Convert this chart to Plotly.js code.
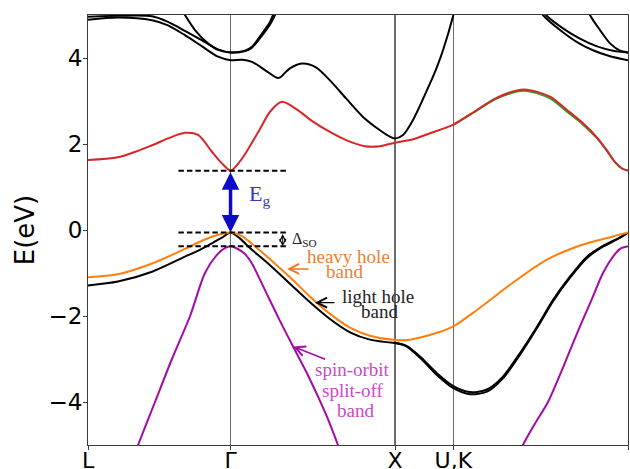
<!DOCTYPE html>
<html>
<head>
<meta charset="utf-8">
<script src="https://cdn.plot.ly/plotly-3.0.1.min.js"></script>
<style>html,body{margin:0;padding:0;background:#fff;}#chart{width:630px;height:469px;}</style>
</head>
<body>
<div id="chart"></div>
<script>
// High-symmetry points along the FCC path (units of 2*pi/a)
const kTicks = [0, 0.866, 1.866, 2.220, 3.281];
const kLabels = ['L', 'Γ', 'X', 'U,K', 'Γ'];
const kGamma = 0.866;

// Band edges at Gamma (eV)
const E_CBM = 1.38;
const E_VBM = -0.06;
const E_SO = -0.38;

// Lowest conduction band
const cbK = [0, 0.182, 0.389, 0.486, 0.589, 0.669, 0.753, 0.814, 0.866, 0.924, 0.984, 1.045, 1.106, 1.179, 1.270, 1.367, 1.470, 1.568, 1.683, 1.774, 1.866, 1.975, 2.078, 2.220, 2.363, 2.485, 2.649, 2.807, 2.910, 3.008, 3.093, 3.153, 3.202, 3.245, 3.281];
const cbE = [1.63, 1.69, 1.97, 2.13, 2.26, 2.21, 1.82, 1.55, E_CBM, 1.60, 1.95, 2.35, 2.75, 2.98, 2.80, 2.52, 2.28, 2.09, 1.95, 1.95, 2.03, 2.11, 2.25, 2.45, 2.79, 3.08, 3.27, 3.10, 2.79, 2.48, 2.15, 1.85, 1.58, 1.43, E_CBM];

// Its partner that splits off slightly along K-Gamma
const cb2K = [2.220, 2.363, 2.485, 2.649, 2.807, 2.910, 3.008, 3.093, 3.153, 3.202, 3.245, 3.281];
const cb2E = [2.45, 2.78, 3.06, 3.24, 3.06, 2.75, 2.45, 2.13, 1.84, 1.58, 1.43, E_CBM];

// Higher conduction bands (null = outside the window)
const c1K = [0, 0.182, 0.389, 0.486, 0.589, 0.693, 0.790, 0.866, 0.936, 0.996, 1.075, 1.148, 1.167, 1.227, 1.306, 1.385, 1.470, 1.568, 1.671, 1.774, 1.835, 1.866, 1.914, 1.975, 2.078, 2.120, 2.157, 2.220, 2.235, null, 2.746, 2.764, 2.868, 2.971, 3.068, 3.172, 3.281];
const c1E = [4.89, 4.94, 4.88, 4.76, 4.53, 4.27, 4.03, 3.95, 3.96, 3.91, 3.72, 3.54, 3.55, 3.76, 3.87, 3.78, 3.48, 3.06, 2.63, 2.32, 2.17, 2.13, 2.21, 2.56, 3.41, 3.79, 4.18, 5.0, 5.25, null, 5.1, 5.0, 4.65, 4.37, 4.18, 4.04, 3.95];

const c2K = [0, 0.182, 0.389, 0.486, 0.589, 0.693, 0.790, 0.866, 0.954, 0.996, 1.057, 1.106, 1.124, 1.140, null, 2.760, 2.783, 2.886, 2.989, 3.093, 3.190, 3.281];
const c2E = [4.96, 4.98, 4.97, 4.84, 4.63, 4.41, 4.20, 4.13, 4.17, 4.26, 4.57, 4.84, 5.0, 5.15, null, 5.15, 5.0, 4.69, 4.45, 4.27, 4.17, 4.13];

const c3K = [0.570, 0.589, 0.650, 0.729, 0.790, 0.866, 0.954, 0.996, 1.057, 1.106, 1.136, 1.150, null, 3.044, 3.050, 3.111, 3.172, 3.233, 3.281];
const c3E = [5.12, 5.0, 4.65, 4.34, 4.19, 4.13, 4.16, 4.24, 4.52, 4.78, 5.0, 5.12, null, 5.1, 5.0, 4.65, 4.34, 4.17, 4.13];

// Heavy hole band
const hhK = [0, 0.182, 0.389, 0.589, 0.711, 0.802, 0.866, 0.936, 0.996, 1.106, 1.227, 1.349, 1.470, 1.592, 1.713, 1.866, 1.956, 2.096, 2.220, 2.363, 2.583, 2.783, 2.989, 3.190, 3.281];
const hhE = [-1.10, -1.03, -0.78, -0.44, -0.22, -0.10, E_VBM, -0.14, -0.32, -0.68, -1.10, -1.55, -1.95, -2.27, -2.46, -2.56, -2.55, -2.42, -2.24, -1.86, -1.22, -0.70, -0.36, -0.15, E_VBM];

// Light hole band (doubly drawn beyond X where it splits)
const lhK = [0, 0.182, 0.389, 0.589, 0.680, 0.753, 0.814, 0.866, 0.924, 0.984, 1.106, 1.227, 1.349, 1.470, 1.592, 1.713, 1.866];
const lhE = [-1.29, -1.20, -0.97, -0.62, -0.46, -0.31, -0.18, E_VBM, -0.20, -0.42, -0.82, -1.25, -1.68, -2.07, -2.38, -2.55, -2.63];

const lhXK = [1.866, 1.932, 2.017, 2.120, 2.220, 2.321, 2.424, 2.521, 2.625, 2.728, 2.825, 2.929, 3.032, 3.129, 3.233, 3.281];
const lhXE1 = [-2.63, -2.69, -2.94, -3.33, -3.63, -3.77, -3.71, -3.41, -2.86, -2.25, -1.63, -1.08, -0.62, -0.37, -0.17, E_VBM];
const lhXE2 = [-2.63, -2.70, -2.97, -3.37, -3.68, -3.82, -3.76, -3.45, -2.90, -2.28, -1.66, -1.11, -0.65, -0.39, -0.18, E_VBM];

// Spin-orbit split-off band
const soK = [0.255, 0.304, 0.407, 0.510, 0.620, 0.711, 0.790, 0.832, 0.866, 0.905, 0.954, 0.996, 1.082, 1.167, 1.246, 1.325, 1.397, 1.458, 1.519, 1.568, null, 2.594, 2.643, 2.716, 2.795, 2.886, 2.977, 3.062, 3.129, 3.190, 3.233, 3.281];
const soE = [-5.5, -5.0, -4.0, -3.0, -2.0, -1.0, -0.55, -0.42, E_SO, -0.43, -0.56, -0.78, -1.45, -2.12, -2.71, -3.29, -3.87, -4.4, -5.0, -5.5, null, -5.5, -5.0, -4.5, -4.0, -3.2, -2.35, -1.6, -1.0, -0.62, -0.44, E_SO];

// Extent of the dashed reference levels
const levelK = [0.549, 1.207];
const kDso = 1.183;

function band(k, e, color, width) {
  return {x: k, y: e, type: 'scatter', mode: 'lines', hoverinfo: 'skip',
          connectgaps: false,
          line: {color: color, width: width || 2, shape: 'spline', smoothing: 0.8}};
}
function level(e) {
  return {x: levelK, y: [e, e], type: 'scatter', mode: 'lines', hoverinfo: 'skip',
          line: {color: '#000', width: 2, dash: '5.5px,3px'}};
}

const traces = [
  band(c1K, c1E, '#000'),
  band(c2K, c2E, '#000'),
  band(c3K, c3E, '#000'),
  band(cb2K, cb2E, '#2ca02c'),
  band(cbK, cbE, '#d62728'),
  band(soK, soE, '#a40aa4'),
  band(lhK, lhE, '#000'),
  band(lhXK, lhXE1, '#000'),
  band(lhXK, lhXE2, '#000'),
  band(hhK, hhE, '#ff7f0e'),
  level(E_CBM), level(E_VBM), level(E_SO)
];

const serif = 'Liberation Serif, DejaVu Serif, serif';
function label(txt, k, e, color, size, xanchor) {
  return {x: k, y: e, xref: 'x', yref: 'y', text: txt, showarrow: false,
          xanchor: xanchor || 'center', yanchor: 'middle',
          font: {family: serif, size: size, color: color}};
}
function pointer(k, e, ak, ae, color, width, head, size) {
  return {x: k, y: e, ax: ak, ay: ae, xref: 'x', yref: 'y', axref: 'x', ayref: 'y',
          text: '', showarrow: true, arrowhead: head, arrowsize: size,
          arrowwidth: width, arrowcolor: color, standoff: 0};
}

const annotations = [
  // band gap arrow
  Object.assign(pointer(kGamma, E_VBM, kGamma, E_CBM, '#0c0cc6', 3.5, 2, 1),
                {arrowside: 'end+start', startarrowhead: 2, startarrowsize: 1, startstandoff: 0}),
  label('E<sub>g</sub>', 0.966, 0.82, '#3535cc', 22, 'left'),
  // spin-orbit splitting arrow
  Object.assign(pointer(kDso, E_SO, kDso, E_VBM, '#000', 1, 5, 1.2),
                {arrowside: 'end+start', startarrowhead: 5, startarrowsize: 1.2, startstandoff: 0}),
  label('Δ<sub>SO</sub>', 1.230, -0.21, '#222', 16, 'left'),
  // heavy hole
  pointer(1.209, -0.906, 1.349, -0.906, '#ee7720', 1.4, 5, 1.4),
  label('heavy hole', 1.580, -0.611, '#ee7f33', 19),
  label('band', 1.561, -0.973, '#ee7f33', 19),
  // light hole
  pointer(1.379, -1.689, 1.507, -1.689, '#000', 1.4, 5, 1.4),
  label('light hole', 1.759, -1.554, '#222', 19),
  label('band', 1.774, -1.902, '#222', 19),
  // split-off
  pointer(1.247, -2.711, 1.450, -3.02, '#a40aa4', 1.4, 5, 1.4),
  label('spin-orbit', 1.607, -3.243, '#c84ac8', 19),
  label('split-off', 1.613, -3.742, '#c84ac8', 19),
  label('band', 1.628, -4.207, '#c84ac8', 19)
];

const axisFont = {family: 'DejaVu Sans, sans-serif', size: 22, color: '#000'};
const layout = {
  width: 630, height: 469,
  margin: {l: 88, r: 2, t: 15, b: 24, pad: 0},
  paper_bgcolor: '#fff', plot_bgcolor: '#fff',
  showlegend: false,
  xaxis: {range: [0, 3.281], tickmode: 'array', tickvals: kTicks, ticktext: kLabels,
          showgrid: true, gridcolor: '#6e6a6a', gridwidth: 1.3, zeroline: false,
          showline: true, mirror: true, linecolor: '#3c3c3c', linewidth: 1,
          ticks: 'outside', ticklen: 4, tickcolor: '#3c3c3c', tickfont: axisFont,
          ticklabelstandoff: -8, automargin: false, fixedrange: true},
  yaxis: {range: [-5, 5], tickmode: 'array', tickvals: [-4, -2, 0, 2, 4],
          showgrid: false, zeroline: false,
          showline: true, mirror: true, linecolor: '#3c3c3c', linewidth: 1,
          ticks: 'outside', ticklen: 4, tickcolor: '#3c3c3c',
          tickfont: {family: 'DejaVu Sans, sans-serif', size: 23, color: '#000'},
          ticklabelstandoff: -4,
          title: {text: 'E(eV)', standoff: 6,
                  font: {family: 'DejaVu Sans, sans-serif', size: 26, color: '#000'}},
          automargin: true, fixedrange: true},
  annotations: annotations
};

Plotly.newPlot('chart', traces, layout, {displayModeBar: false, staticPlot: true});
</script>
</body>
</html>
